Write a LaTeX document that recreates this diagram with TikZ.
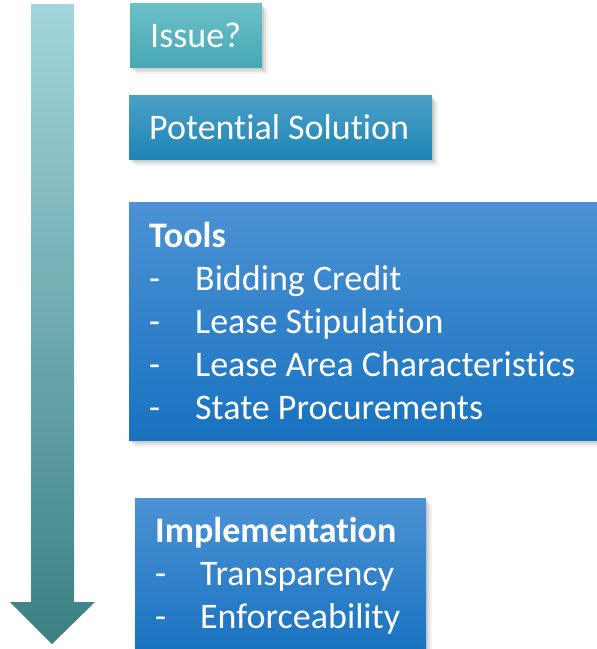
\documentclass[tikz,border=0pt]{standalone}
\usepackage{fontspec}
\setmainfont{Carlito}[Ligatures={NoCommon}]
\usetikzlibrary{shadows}
\definecolor{arrowtop}{HTML}{A2D5DC}
\definecolor{arrowbot}{HTML}{3B8083}
\definecolor{issuetop}{HTML}{6CC0C8}
\definecolor{issuebot}{HTML}{46A8B4}
\definecolor{soltop}{HTML}{4CA0C8}
\definecolor{solbot}{HTML}{1E84B4}
\definecolor{tooltop}{HTML}{4C92D4}
\definecolor{toolbot}{HTML}{1872C0}
\newcommand{\itemdash}{\makebox[46pt][l]{-}}

\begin{document}
\begin{tikzpicture}[x=1pt, y=-1pt]
				\tikzstyle{every node}=[inner xsep=20pt, inner ysep=0pt, align=flush left, text=white, font=\fontsize{36}{43}\selectfont]
				\tikzstyle{stepbox}=[anchor=north west,
					drop shadow={shadow xshift=6pt, shadow yshift=-7pt, opacity=0.1},
					drop shadow={shadow xshift=4pt, shadow yshift=-5pt, opacity=0.15},
					drop shadow={shadow xshift=2pt, shadow yshift=-3pt, opacity=0.2}]
				\useasboundingbox (0,0) rectangle (597,649);
				\clip (0,0) rectangle (597,649);
				% arrow
				\path[top color=arrowtop, bottom color=arrowbot] (31,4) -- (74,4) -- (74,602) -- (95,602) -- (52,644) -- (10,602) -- (31,602) -- cycle;
				% boxes
				\node[stepbox, top color=issuetop, bottom color=issuebot, text width=92pt, minimum height=64pt] (Is) at (130,3) {Issue?};
				\node[stepbox, top color=soltop, bottom color=solbot, text width=263pt, minimum height=64pt] (PS) at (129,95) {Potential Solution};
				\node[stepbox, top color=tooltop, bottom color=toolbot, text width=440pt, minimum height=238pt] (T) at (129,202) {\textbf{Tools}\\
					\itemdash Bidding Credit\\
					\itemdash Lease Stipulation\\
					\itemdash Lease Area Characteristics\\
					\itemdash State Procurements};
				\node[stepbox, top color=tooltop, bottom color=toolbot, text width=251pt, minimum height=156pt] (Im) at (135,498) {\textbf{Implementation}\\
					\makebox[45pt][l]{-}Transparency\\
					\makebox[45pt][l]{-}Enforceability};
		\end{tikzpicture}
\end{document}
